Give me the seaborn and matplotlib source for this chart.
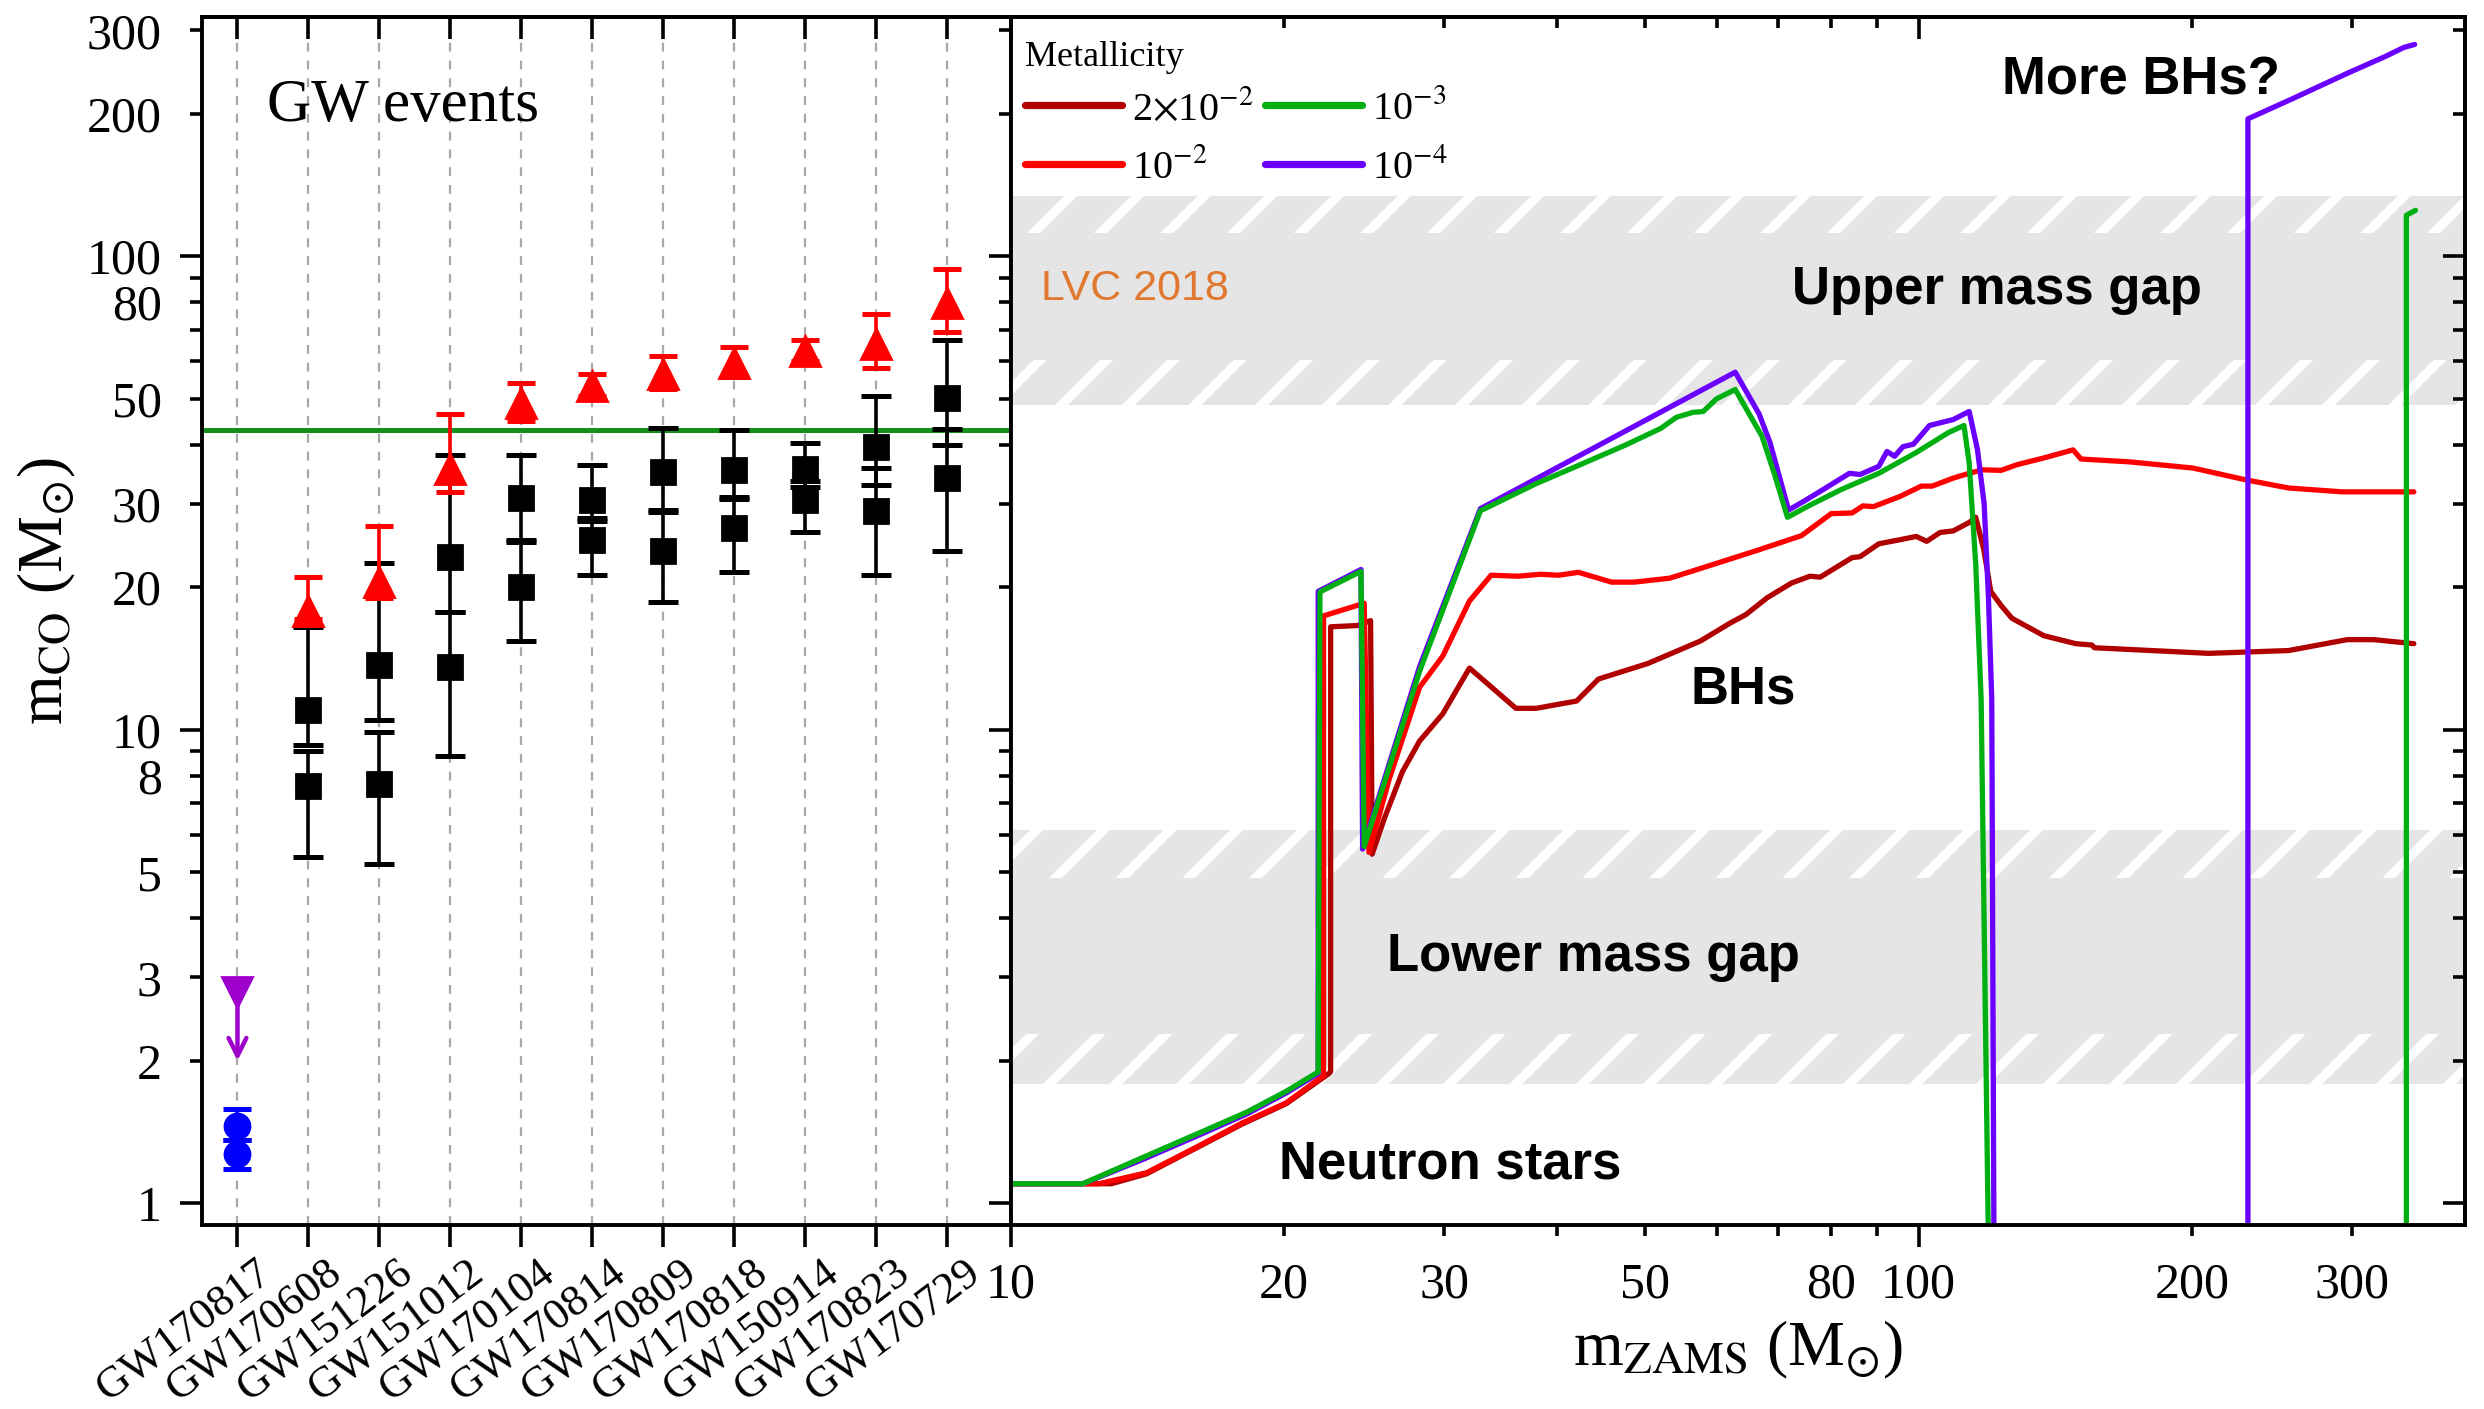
import numpy as np
import pandas as pd
import matplotlib
matplotlib.use("Agg")
import matplotlib.pyplot as plt
import seaborn as sns
from matplotlib.ticker import FixedLocator, FuncFormatter
from matplotlib.lines import Line2D
from matplotlib.transforms import ScaledTranslation

# ---------------------------------------------------------------- data
events = ["GW170817", "GW170608", "GW151226", "GW151012", "GW170104",
          "GW170814", "GW170809", "GW170818", "GW150914", "GW170823",
          "GW170729"]

# binary black hole events (all except GW170817): component masses
bbh_events = events[1:]
m1 = [11.0, 13.7, 23.2, 30.8, 30.6, 35.0, 35.4, 35.6, 39.5, 50.2]
m1_hi = [5.5, 8.8, 14.9, 7.3, 5.6, 8.3, 7.5, 4.8, 11.2, 16.2]
m1_lo = [1.7, 3.2, 5.5, 5.6, 3.0, 5.9, 4.7, 3.0, 6.7, 10.2]
m2 = [7.6, 7.7, 13.6, 20.0, 25.2, 23.8, 26.7, 30.6, 29.0, 34.0]
m2_hi = [1.4, 2.2, 4.1, 4.9, 2.8, 5.1, 4.3, 3.0, 6.7, 9.1]
m2_lo = [2.2, 2.5, 4.8, 4.6, 4.0, 5.2, 5.2, 4.4, 7.8, 10.1]
# remnant masses
mf = [17.8, 20.5, 35.6, 48.9, 53.2, 56.3, 59.4, 63.1, 65.4, 79.5]
mf_hi = [3.2, 6.4, 10.8, 5.1, 3.2, 5.2, 4.9, 3.3, 10.1, 14.7]
mf_lo = [0.7, 1.5, 3.8, 4.0, 2.4, 3.8, 3.8, 3.0, 7.4, 10.2]

# GW170817: neutron star components and remnant upper limit
ns_mass = [1.46, 1.27]
ns_hi = [0.12, 0.09]
ns_lo = [0.10, 0.09]
ns_remnant_limit = 2.8
ns_remnant_arrow_to = 2.0

threshold_mass = 43.0

# mass gaps (solid core, hatched uncertain edges)
upper_gap_solid = (60.5, 112.0)
upper_gap_edges = [(48.5, 60.5), (112.0, 134.0)]
lower_gap_solid = (2.28, 4.86)
lower_gap_edges = [(1.79, 2.28), (4.86, 6.14)]

# m_CO vs m_ZAMS for four metallicities
zams_z2e2 = [10, 12.9, 14.1, 16.2, 18.0, 20.1, 22.4, 22.5, 22.5, 24.1, 24.9, 25.0,
             25.8, 27.0, 28.2, 29.9, 32.0, 36.0, 37.9, 42.0, 44.4, 50.3, 55.7,
             57.5, 62.0, 64.5, 68.1, 72.4, 75.9, 77.9, 84.5, 86.2, 90.4, 95.4,
             99.4, 102.1, 105.6, 109.2, 113.7, 115.6, 118.0, 120.1, 123.3, 126.7,
             137.4, 149.0, 155.2, 156.2, 208.9, 255.7, 296.7, 317.4, 351.3]
mco_z2e2 = [1.10, 1.10, 1.154, 1.325, 1.472, 1.623, 1.879, 1.90, 16.5, 16.6, 17.0, 5.46,
            6.52, 8.16, 9.47, 10.8, 13.5, 11.1, 11.1, 11.5, 12.8, 13.8, 15.0,
            15.4, 16.8, 17.5, 19.0, 20.4, 21.1, 21.0, 23.1, 23.2, 24.7, 25.2,
            25.6, 25.0, 26.1, 26.3, 27.4, 28.1, 24.0, 19.6, 18.3, 17.2,
            15.8, 15.2, 15.1, 14.9, 14.5, 14.7, 15.5, 15.5, 15.2]

zams_z1e2 = [10, 12.5, 14.1, 16.2, 18.0, 20.1, 22.1, 22.1, 24.5, 24.8, 26.1, 28.2,
             29.9, 32.0, 33.8, 36.2, 38.3, 40.1, 42.2, 45.9, 48.6, 53.2, 57.9,
             66.3, 74.3, 80.1, 84.5, 86.8, 89.2, 95.4, 100.7, 103.5, 109.2, 113.7,
             117.6, 123.3, 128.4, 137.4, 148.0, 151.0, 170.6, 200.6, 229.6, 255.7,
             292.7, 351.3]
mco_z1e2 = [1.10, 1.10, 1.16, 1.33, 1.48, 1.63, 1.86, 17.4, 18.5, 5.51, 7.86, 12.3,
            14.3, 18.7, 21.2, 21.1, 21.3, 21.2, 21.5, 20.5, 20.5, 20.9, 22.0,
            23.9, 25.7, 28.6, 28.7, 29.7, 29.6, 31.1, 32.7, 32.7, 34.0, 34.8,
            35.4, 35.3, 36.3, 37.5, 39.0, 37.3, 36.8, 35.7, 33.7, 32.4,
            31.8, 31.8]

zams_z1e3 = [10, 12.0, 14.0, 16.2, 18.2, 20.1, 21.8, 21.9, 24.3, 24.5, 28.2, 32.9,
             37.9, 42.4, 47.5, 52.0, 54.1, 56.4, 57.9, 59.9, 62.8, 67.2, 69.5,
             71.7, 75.9, 82.3, 90.4, 99.4, 107.8, 112.2, 113.7, 115.6, 117.2,
             119.8, 344.7, 344.7, 352.8]
mco_z1e3 = [1.10, 1.10, 1.252, 1.414, 1.559, 1.724, 1.894, 19.55, 21.6, 5.67, 13.3, 29.0,
            33.1, 36.3, 39.9, 43.3, 45.7, 46.8, 47.0, 50.0, 52.3, 41.7, 34.3,
            28.1, 29.8, 32.2, 34.8, 38.5, 42.4, 43.9, 36.6, 22.4, 11.6,
            0.5, 0.5, 122.0, 125.0]

zams_z1e4 = [10, 12.0, 14.0, 16.2, 18.2, 20.1, 21.8, 21.8, 24.3, 24.4, 28.2, 32.9,
             62.8, 66.7, 68.6, 71.9, 74.8, 79.0, 83.9, 86.2, 90.4, 92.3, 94.1,
             96.1, 98.7, 102.8, 109.2, 113.7, 116.1, 118.1, 119.4, 120.4, 121.2,
             230.6, 230.6, 257.7, 297.1, 326.6, 342.4, 352.0]
mco_z1e4 = [1.10, 1.10, 1.24, 1.40, 1.545, 1.71, 1.88, 19.6, 21.8, 5.6, 13.6, 29.3,
            56.9, 46.5, 40.4, 29.1, 30.4, 32.4, 34.8, 34.6, 36.0, 38.7, 37.8,
            39.6, 40.1, 43.9, 45.2, 47.0, 39.1, 30.0, 19.0, 11.6, 0.5,
            0.5, 195.0, 214.7, 243.6, 264.0, 275.9, 280.0]

metallicities = ["2e-2", "1e-2", "1e-3", "1e-4"]
metal_labels = [r"2$\times$10$^{-2}$", r"10$^{-2}$", r"10$^{-3}$", r"10$^{-4}$"]
metal_colors = ["#b00000", "#ff0000", "#00b012", "#6a00ff"]

# ---------------------------------------------------------------- style
sns.set_theme(style="ticks", rc={
    "axes.edgecolor": "black", "axes.labelcolor": "black",
    "xtick.color": "black", "ytick.color": "black", "text.color": "black",
    "axes.linewidth": 1.4,
})
plt.rcParams["font.family"] = ["Liberation Serif", "DejaVu Serif"]
plt.rcParams["mathtext.fontset"] = "stix"
plt.rcParams["hatch.linewidth"] = 3.2

W, H = 2484, 1409
fig = plt.figure(figsize=(W / 200, H / 200), dpi=200)
bottom = 1 - 1225 / H
height = (1225 - 17) / H
axL = fig.add_axes([202 / W, bottom, (1011 - 202) / W, height])
axR = fig.add_axes([1011 / W, bottom, (2465 - 1011) / W, height])

ylim = (0.9, 320)
y_major = [1, 10, 100]
y_minor = [2, 3, 4, 5, 6, 7, 8, 9, 20, 30, 40, 50, 60, 70, 80, 90, 200, 300]
y_labelled = [1, 2, 3, 5, 8, 10, 20, 30, 50, 80, 100, 200, 300]
x_major = [10, 100]
x_minor = [20, 30, 40, 50, 60, 70, 80, 90, 200, 300]
x_labelled = [10, 20, 30, 50, 80, 100, 200, 300]


def label_fmt(labelled):
    return FuncFormatter(lambda v, p: f"{v:g}" if np.any(np.isclose(v, labelled)) else "")


def set_log_ticks(axis, majors, minors, labelled):
    axis.set_major_locator(FixedLocator(majors))
    axis.set_minor_locator(FixedLocator(minors))
    axis.set_major_formatter(label_fmt(labelled))
    axis.set_minor_formatter(label_fmt(labelled))


# ---------------------------------------------------------------- left panel
pos = np.arange(len(events))
bbh_pos = [events.index(e) for e in bbh_events]
ns_pos = [events.index("GW170817")] * len(ns_mass)

axL.set_yscale("log")
axL.set_ylim(*ylim)
axL.set_xlim(-0.5, 10.9)

for x in pos:
    axL.axvline(x, color="#a8a8a8", lw=0.8, ls=(0, (4, 4)), zorder=0)
axL.axhline(threshold_mass, color="#12901a", lw=1.8, zorder=1)

eb = dict(elinewidth=1.3, capthick=1.8, linestyle="none")
axL.errorbar(bbh_pos, m1, yerr=[m1_lo, m1_hi], fmt="s", color="black", ms=8.5,
             capsize=5.5, zorder=3, **eb)
axL.errorbar(bbh_pos, m2, yerr=[m2_lo, m2_hi], fmt="s", color="black", ms=8.5,
             capsize=5.5, zorder=3, **eb)
axL.errorbar(bbh_pos, mf, yerr=[mf_lo, mf_hi], fmt="^", color="#ff0000", ms=11,
             capsize=5.0, zorder=4, **eb)
axL.errorbar(ns_pos, ns_mass, yerr=[ns_lo, ns_hi], fmt="o", color="#0000ff", ms=9,
             capsize=5.0, zorder=4, **eb)
axL.plot(ns_pos[:1], [ns_remnant_limit], marker="v", color="#a000cc", ms=11,
         ls="none", zorder=4)
axL.annotate("", xy=(ns_pos[0], ns_remnant_arrow_to), xytext=(ns_pos[0], ns_remnant_limit),
             arrowprops=dict(arrowstyle="->", color="#a000cc", lw=1.6, mutation_scale=16,
                             shrinkA=0, shrinkB=0), zorder=4)

axL.text(0.080, 0.914, "GW events", transform=axL.transAxes, fontsize=22,
         ha="left", va="baseline")

set_log_ticks(axL.yaxis, y_major, y_minor, y_labelled)
axL.tick_params(axis="y", which="both", left=True, right=False, direction="out",
                labelsize=18, width=1.3)
axL.tick_params(axis="y", which="major", length=8, pad=6.5)
axL.tick_params(axis="y", which="minor", length=4.2, pad=10.3)
axL.set_xticks(pos)
axL.set_xticklabels(events)
axL.tick_params(axis="x", which="major", bottom=True, top=False, direction="out",
                length=8, width=1.3, labelsize=16, pad=2)
offset = ScaledTranslation(6 / 72, 0, fig.dpi_scale_trans)
for lbl in axL.get_xticklabels():
    lbl.set_rotation(37)
    lbl.set_ha("right")
    lbl.set_va("top")
    lbl.set_rotation_mode("anchor")
    lbl.set_transform(lbl.get_transform() + offset)
axL.set_ylabel(r"m$_{\mathrm{CO}}$ (M$_{\odot}$)", fontsize=23)
axL.yaxis.set_label_coords(-0.153, 0.525)

secL = axL.secondary_xaxis("top")
secL.set_xticks(pos)
secL.tick_params(axis="x", which="both", direction="in", length=8, width=1.3,
                 labeltop=False)
secL.spines["top"].set_linewidth(1.4)

# ---------------------------------------------------------------- right panel
axR.set_xscale("log")
axR.set_yscale("log")
axR.set_xlim(10, 400)
axR.set_ylim(*ylim)

gap_face = "#e5e5e5"
for lo, hi in [upper_gap_solid, lower_gap_solid]:
    axR.axhspan(lo, hi, facecolor=gap_face, edgecolor="none", lw=0, zorder=0)
for lo, hi in upper_gap_edges + lower_gap_edges:
    axR.axhspan(lo, hi, facecolor=gap_face, edgecolor="white", hatch="/", lw=0, zorder=0)

curves = {
    "2e-2": (zams_z2e2, mco_z2e2),
    "1e-2": (zams_z1e2, mco_z1e2),
    "1e-3": (zams_z1e3, mco_z1e3),
    "1e-4": (zams_z1e4, mco_z1e4),
}
df = pd.concat([pd.DataFrame({"m_zams": xs, "m_co": ys, "Z": z})
                for z, (xs, ys) in curves.items()], ignore_index=True)
palette = dict(zip(metallicities, metal_colors))
sns.lineplot(data=df, x="m_zams", y="m_co", hue="Z",
             hue_order=["2e-2", "1e-2", "1e-4", "1e-3"], palette=palette,
             sort=False, estimator=None, lw=1.9, legend=False, ax=axR, zorder=2)
axR.set_ylabel("")

handles = [Line2D([], [], color=c, lw=2.6, solid_capstyle="round") for c in metal_colors]
leg = axR.legend(handles, metal_labels, title="Metallicity", ncol=2, loc="upper left",
                 bbox_to_anchor=(0.004, 0.987), frameon=False, fontsize=14.5,
                 title_fontsize=13, alignment="left", handlelength=2.4,
                 handletextpad=0.25, columnspacing=0.3, labelspacing=0.5,
                 borderaxespad=0, borderpad=0.2)
leg._legend_box.sep = 6

bold = dict(fontfamily="Liberation Sans", fontweight="bold", fontsize=19,
            ha="center", va="baseline")
axR.text(122, 79.1, "Upper mass gap", **bold)
axR.text(43.8, 3.10, "Lower mass gap", **bold)
axR.text(30.5, 1.126, "Neutron stars", **bold)
axR.text(64.1, 11.36, "BHs", **bold)
axR.text(176, 220, "More BHs?", **bold)
axR.text(10.79, 80.8, "LVC 2018", fontfamily="Liberation Sans", fontsize=15.5,
         color="#e0782f", ha="left", va="baseline")

set_log_ticks(axR.xaxis, x_major, x_minor, x_labelled)
axR.tick_params(axis="x", which="both", bottom=True, top=False, direction="out",
                labelsize=18, width=1.3)
axR.tick_params(axis="x", which="major", length=8, pad=5.5)
axR.tick_params(axis="x", which="minor", length=4, pad=9.5)
set_log_ticks(axR.yaxis, y_major, y_minor, [])
axR.tick_params(axis="y", which="both", left=True, right=False, direction="out",
                labelleft=False, width=1.3)
axR.tick_params(axis="y", which="major", length=8)
axR.tick_params(axis="y", which="minor", length=4.2)
axR.set_xlabel(r"m$_{\mathrm{ZAMS}}$ (M$_{\odot}$)", fontsize=23)
axR.xaxis.set_label_coords(0.5, -0.078)

secX = axR.secondary_xaxis("top")
secX.set_xticks(x_major)
secX.set_xticks(x_minor, minor=True)
secX.tick_params(axis="x", which="both", direction="in", width=1.3, labeltop=False)
secX.tick_params(axis="x", which="major", length=8)
secX.tick_params(axis="x", which="minor", length=4)
secX.spines["top"].set_linewidth(1.4)

secY = axR.secondary_yaxis("right")
secY.set_yticks(y_major)
secY.set_yticks(y_minor, minor=True)
secY.tick_params(axis="y", which="both", direction="in", width=1.3, labelright=False)
secY.tick_params(axis="y", which="major", length=8)
secY.tick_params(axis="y", which="minor", length=4.2)
secY.spines["right"].set_linewidth(1.4)

fig.savefig("out.png", dpi=200)
